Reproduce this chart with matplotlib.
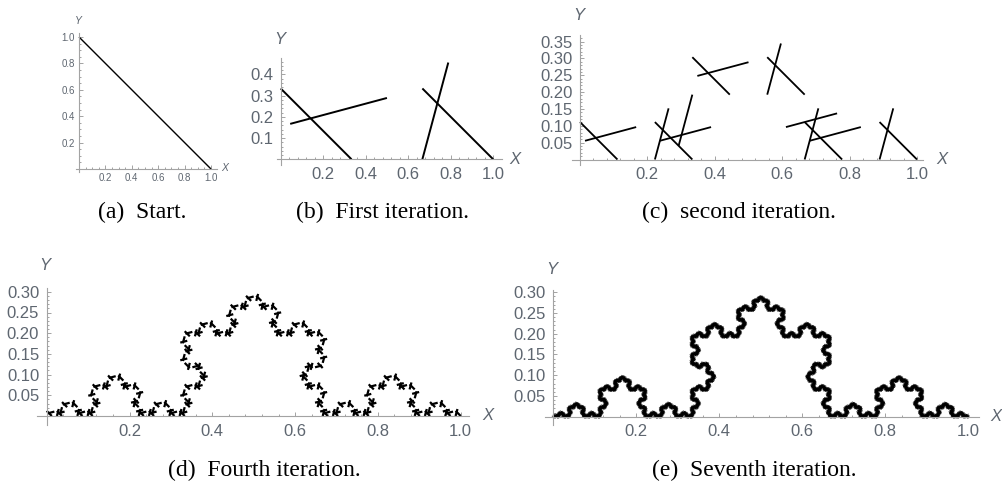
import numpy as np
import matplotlib
matplotlib.use('Agg')
from matplotlib import pyplot as plt
from matplotlib.collections import LineCollection

# starting segment and the four Koch maps: p -> shift + scale * R(angle) p
start_x = [0.0, 1.0]
start_y = [1.0, 0.0]
map_scale = [1 / 3, 1 / 3, 1 / 3, 1 / 3]
map_angle = [0.0, 60.0, -60.0, 0.0]
map_shift_x = [0.0, 1 / 3, 0.5, 2 / 3]
map_shift_y = [0.0, 0.0, 0.2886751, 0.0]

iterations = [0, 1, 2, 4, 7]
captions = ['(a)  Start.', '(b)  First iteration.', '(c)  second iteration.',
            '(d)  Fourth iteration.', '(e)  Seventh iteration.']

ticks_x = [0.2, 0.4, 0.6, 0.8, 1.0]
ticks_y_a = [0.2, 0.4, 0.6, 0.8, 1.0]
ticks_y_b = [0.1, 0.2, 0.3, 0.4]
ticks_y_c = [0.05, 0.10, 0.15, 0.20, 0.25, 0.30, 0.35]
ticks_y_de = [0.05, 0.10, 0.15, 0.20, 0.25, 0.30]

W, H = 1002, 484
LABEL = '#5e6670'
AXIS = '#a3a3a3'


def iterate(n):
    segs = np.array([[[start_x[0], start_y[0]], [start_x[1], start_y[1]]]])
    for _ in range(n):
        parts = []
        for s, a, tx, ty in zip(map_scale, map_angle, map_shift_x, map_shift_y):
            t = np.radians(a)
            m = s * np.array([[np.cos(t), -np.sin(t)], [np.sin(t), np.cos(t)]])
            parts.append(segs @ m.T + np.array([tx, ty]))
        segs = np.concatenate(parts)
    return segs


def panel(fig, origin, scale, xlim, ylim, yticks, xminor, yminor, fs, lw,
          n, ylab_at, xlab_at, cap_at, caption, lab_fs):
    ox, oy = origin
    left = ox + xlim[0] * scale
    bottom = oy - ylim[0] * scale
    ax = fig.add_axes([left / W, (H - bottom) / H,
                       (xlim[1] - xlim[0]) * scale / W,
                       (ylim[1] - ylim[0]) * scale / H])
    ax.set_xlim(xlim)
    ax.set_ylim(ylim)
    ax.patch.set_alpha(0)
    for side in ('top', 'right'):
        ax.spines[side].set_visible(False)
    for side in ('left', 'bottom'):
        ax.spines[side].set_position(('data', 0))
        ax.spines[side].set_color(AXIS)
        ax.spines[side].set_linewidth(0.8)
    ax.set_xticks(ticks_x)
    ax.set_xticklabels([f'{v:.1f}' for v in ticks_x])
    ax.set_yticks(yticks)
    dec = 2 if yticks[0] < 0.1 else 1
    ax.set_yticklabels([f'{v:.{dec}f}' for v in yticks])
    ax.set_xticks(np.arange(xminor, 1.0, xminor), minor=True)
    ax.set_yticks(np.arange(yminor, ylim[1], yminor), minor=True)
    ax.tick_params(which='both', direction='in', color=AXIS, width=0.7)
    ax.tick_params(which='major', length=3.2, labelsize=fs, labelcolor=LABEL,
                   pad=fs * 0.45)
    ax.tick_params(which='minor', length=1.6)
    for lbl in ax.get_xticklabels() + ax.get_yticklabels():
        lbl.set_family('Liberation Sans')

    lc = LineCollection(iterate(n), colors='black', linewidths=lw,
                        capstyle='butt')
    ax.add_collection(lc)

    fig.text(ylab_at[0] / W, 1 - ylab_at[1] / H, 'Y', ha='center', va='center',
             color=LABEL, fontsize=lab_fs, style='italic', family='Liberation Sans')
    fig.text(xlab_at[0] / W, 1 - xlab_at[1] / H, 'X', ha='center', va='center',
             color=LABEL, fontsize=lab_fs, style='italic', family='Liberation Sans')
    fig.text(cap_at[0] / W, 1 - cap_at[1] / H, caption, ha='center', va='center',
             fontsize=17, family='Liberation Serif', color='black')
    return ax


fig = plt.figure(figsize=(W / 100, H / 100), dpi=100)

panel(fig, (79, 169), 132, (-0.02, 1.045), (-0.02, 1.03), ticks_y_a, 0.05, 0.05,
      7, 1.0, iterations[0], (78, 21), (225, 168), (142, 212), captions[0], 7.5)
panel(fig, (280.7, 159.3), 212.5, (-0.019, 1.04), (-0.027, 0.475), ticks_y_b,
      0.04, 0.02, 12, 1.4, iterations[1], (280, 39), (515, 160), (382, 212),
      captions[1], 12)
panel(fig, (580, 159.5), 337, (-0.025, 1.018), (-0.016, 0.37), ticks_y_c,
      0.04, 0.01, 12, 1.3, iterations[2], (579, 15), (942, 160), (739, 212),
      captions[2], 12)
panel(fig, (46.7, 416), 414, (-0.024, 1.02), (-0.022, 0.31), ticks_y_de,
      0.04, 0.01, 12, 1.6, iterations[3], (45, 265), (488, 416), (264, 470),
      captions[3], 12)
panel(fig, (553.3, 416.7), 415, (-0.02, 1.025), (-0.02, 0.305), ticks_y_de,
      0.04, 0.01, 12, 2.9, iterations[4], (551.7, 269), (996, 416.7), (754, 470),
      captions[4], 12)

fig.savefig('out.png', dpi=100)
